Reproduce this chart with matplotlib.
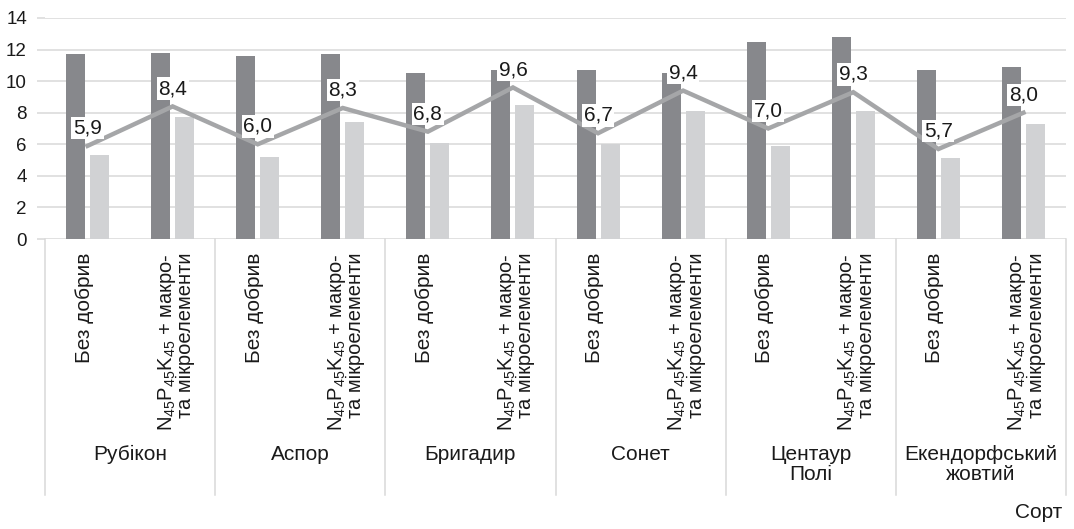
import matplotlib
matplotlib.use("Agg")
import matplotlib.pyplot as plt
import matplotlib.transforms as mtransforms
from matplotlib.lines import Line2D
import numpy as np

plt.rcParams['font.family'] = ['Liberation Sans', 'DejaVu Sans']
plt.rcParams['mathtext.fontset'] = 'custom'
plt.rcParams['mathtext.rm'] = 'Liberation Sans'
plt.rcParams['mathtext.it'] = 'Liberation Sans'

varieties = ['Рубікон', 'Аспор', 'Бригадир', 'Сонет', 'Центаур\nПолі', 'Екендорфський\nжовтий']
treatments = [['Без добрив'],
              ['$\\mathregular{N_{45}P_{45}K_{45}}$ + макро-', 'та мікроелементи']]
dark_vals = [11.7, 11.8, 11.6, 11.7, 10.5, 10.7, 10.7, 10.5, 12.5, 12.8, 10.7, 10.9]
light_vals = [5.3, 7.7, 5.2, 7.4, 6.1, 8.5, 6.0, 8.1, 5.9, 8.1, 5.1, 7.3]
line_vals = [5.9, 8.4, 6.0, 8.3, 6.8, 9.6, 6.7, 9.4, 7.0, 9.3, 5.7, 8.0]
y_ticks = [0, 2, 4, 6, 8, 10, 12, 14]
x_title = 'Сорт'

W, H = 1074, 529
fig = plt.figure(figsize=(W / 100, H / 100), dpi=100)
ax_l, ax_r, ax_t, ax_b = 45, 1066, 18, 239
ax = fig.add_axes([ax_l / W, 1 - ax_b / H, (ax_r - ax_l) / W, (ax_b - ax_t) / H])

n = len(dark_vals)
x = np.arange(n)
px = (ax_r - ax_l) / n  # pixels per category
bw = 0.224
off = 0.141
dark_c = '#87888c'
light_c = '#d1d2d4'
grid_c = '#d9d9d9'
txt_c = '#1a1a1a'

ax.bar(x - off, dark_vals, width=bw, color=dark_c, zorder=2)
ax.bar(x + off, light_vals, width=bw, color=light_c, zorder=2)
ax.plot(x, line_vals, color='#a5a6a8', lw=3.2, zorder=3, solid_joinstyle='miter')

for xi, v in zip(x, line_vals):
    ax.annotate(f'{v:.1f}'.replace('.', ','), (xi, v), xytext=(0, 6), textcoords='offset points',
                ha='center', va='bottom', fontsize=15, color=txt_c, zorder=5,
                bbox=dict(boxstyle='square,pad=0.08', fc='white', ec='none'))

ax.set_xlim(-0.5, n - 0.5)
ax.set_ylim(0, 14)
ax.set_yticks(y_ticks)
ax.set_yticklabels([str(t) for t in y_ticks], fontsize=13.5, color=txt_c)
ax.set_xticks([])
ax.yaxis.grid(True, color=grid_c, lw=1.1, zorder=0)
ax.tick_params(axis='y', length=6, width=1.1, color=grid_c, pad=7)
for s in ax.spines.values():
    s.set_visible(False)

trans = mtransforms.blended_transform_factory(ax.transData, ax.transAxes)
yfrac = lambda p: (ax_b - p) / (ax_b - ax_t)
for k in range(len(varieties) + 1):
    xs = -0.5 + 2 * k
    ax.add_line(Line2D([xs, xs], [0, yfrac(495)], transform=trans, color=grid_c, lw=1.1, clip_on=False))

lab_top = yfrac(253)
base_offsets = {1: [2 / px], 2: [-1 / px, 18.5 / px]}
for i in range(n):
    lines = treatments[i % 2]
    offs = base_offsets[len(lines)]
    fs = 15 if len(lines) == 1 else 14.5
    for line, o in zip(lines, offs):
        ax.text(x[i] + o, lab_top, line, transform=trans, rotation=90, rotation_mode='anchor',
                ha='right', va='baseline', fontsize=fs, color=txt_c)

for g, name in enumerate(varieties):
    ax.text(2 * g + 0.5, yfrac(445), name, transform=trans, ha='center', va='top',
            fontsize=15, color=txt_c, linespacing=1.05)

fig.text(1062 / W, 1 - 513 / H, x_title, ha='right', va='center', fontsize=15, color=txt_c)

fig.savefig('out.png', dpi=100)
